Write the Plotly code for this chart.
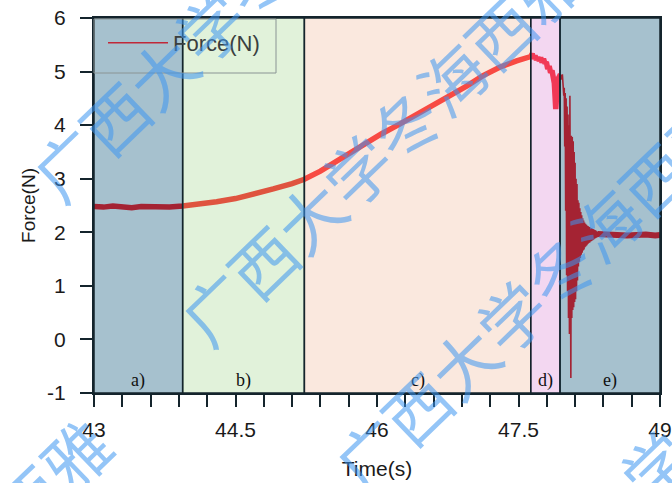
import plotly.graph_objects as go

# ---------------- data ----------------
region_names = ["a)", "b)", "c)", "d)", "e)"]
region_edges = [43.0, 43.94, 45.23, 47.63, 47.94, 49.0]

# slow loading trend (regions a-d)
t_trend = [43.00, 43.10, 43.20, 43.30, 43.40, 43.50, 43.60, 43.70, 43.80, 43.94,
           44.10, 44.30, 44.50, 44.70, 44.90, 45.10, 45.23, 45.40, 45.53, 45.70,
           45.89, 46.05, 46.24, 46.40, 46.59, 46.77, 46.95, 47.12, 47.30, 47.48,
           47.60, 47.630, 47.645, 47.660, 47.675, 47.690, 47.705, 47.720, 47.735,
           47.750, 47.765, 47.780, 47.795, 47.810, 47.825, 47.840, 47.855, 47.870,
           47.880, 47.895, 47.905, 47.915, 47.930, 47.945]
f_trend = [2.48, 2.47, 2.49, 2.47, 2.46, 2.48, 2.47, 2.48, 2.47, 2.49,
           2.52, 2.57, 2.63, 2.71, 2.81, 2.91, 2.99, 3.14, 3.28, 3.47,
           3.67, 3.84, 4.02, 4.18, 4.36, 4.54, 4.73, 4.92, 5.08, 5.20,
           5.27, 5.28, 5.33, 5.24, 5.30, 5.22, 5.27, 5.20, 5.26,
           5.17, 5.24, 5.15, 5.18, 5.05, 5.10, 4.98, 5.02, 4.85,
           4.78, 4.30, 4.60, 4.85, 4.90, 4.95]

# fracture ringing (region e)
t_ring_start = 47.955
t_ring_step = 0.005
f_ring = [4.92, 4.85, 4.95, 4.80, 4.88, 4.55, 4.70, 3.60, 4.60, 2.40,
          4.50, 1.20, 4.35, 0.90, 4.20, 0.40, 4.00, 0.10, 4.55, 0.60,
          -0.72, 3.80, 0.40, 3.78, 0.55, 3.70, 0.60, 3.50, 0.70, 3.30,
          0.75, 3.00, 0.90, 2.90, 1.10, 2.60, 1.36, 2.55, 1.45, 2.45,
          1.52, 2.38, 1.58, 2.32, 1.62, 2.26, 1.66, 2.22, 1.68, 2.18,
          1.72, 2.16, 1.74, 2.14, 1.76, 2.12, 1.78, 2.11, 1.80, 2.10,
          1.81, 2.09, 1.83, 2.08, 1.84, 2.07, 1.85, 2.06, 1.86, 2.05,
          1.88, 2.04, 1.89, 2.03, 1.90, 2.02, 1.91, 2.01]
t_ring = [round(t_ring_start + i * t_ring_step, 4) for i in range(len(f_ring))]

# settled residual force
t_settled = [48.34, 48.40, 48.45, 48.55, 48.65, 48.75, 48.85, 48.95, 49.00]
f_settled = [1.97, 1.96, 1.95, 1.96, 1.94, 1.95, 1.96, 1.94, 1.95]

x_ticks = [43, 44.5, 46, 47.5, 49]
x_tick_text = ["43", "44.5", "46", "47.5", "49"]
y_ticks = [-1, 0, 1, 2, 3, 4, 5, 6]
y_tick_text = ["-1", "0", "1", "2", "3", "4", "5", "6"]

watermark_text = "广西大学冬海西雅"

# ---------------- styles ----------------
W, H = 672, 483
L, R, T, B = 94, 12, 18, 90
region_fill = ["rgba(8,83,119,0.36)", "rgba(172,219,153,0.36)",
               "rgba(242,192,164,0.36)", "rgba(222,144,215,0.36)",
               "rgba(8,83,119,0.36)"]
line_red = "rgb(252,8,14)"
frame_col = "#14242c"
pw, ph = W - L - R, H - T - B

fig = go.Figure()
fig.add_trace(go.Scatter(x=t_trend, y=f_trend, mode="lines",
                         line=dict(color=line_red, width=5.5), showlegend=False,
                         hoverinfo="skip"))
fig.add_trace(go.Scatter(x=t_ring, y=f_ring, mode="lines",
                         line=dict(color=line_red, width=1.6), showlegend=False,
                         hoverinfo="skip"))
fig.add_trace(go.Scatter(x=t_settled, y=f_settled, mode="lines",
                         line=dict(color=line_red, width=6), showlegend=False,
                         hoverinfo="skip"))
# legend entry
fig.add_trace(go.Scatter(x=[None], y=[None], mode="lines", name="Force(N)",
                         line=dict(color="#c02838", width=1.6)))

for i, name in enumerate(region_names):
    x0, x1 = region_edges[i], region_edges[i + 1]
    fig.add_shape(type="rect", xref="x", yref="y", x0=x0, x1=x1, y0=-1, y1=6,
                  fillcolor=region_fill[i], line=dict(color=frame_col, width=1.5),
                  layer="above")
    fig.add_annotation(x=(x0 + x1) / 2, y=-0.77, xref="x", yref="y", text=name,
                       showarrow=False, font=dict(family="Liberation Serif", size=18,
                                                  color="#111"))

# legend frame (page pixels 94..276 x 19..73)
fig.add_shape(type="rect", xref="paper", yref="paper",
              x0=0.0, x1=(276 - L) / pw, y0=(H - B - 73) / ph, y1=(H - B - 19) / ph,
              fillcolor="rgba(0,0,0,0)", line=dict(color="#8a9494", width=1),
              layer="above")

# watermark (page pixel centres)
for cx, cy in [(232, 2), (380, 146), (534, 292), (-92, 614), (678, 442)]:
    fig.add_annotation(xref="paper", yref="paper", x=(cx - L) / pw, y=(H - B - cy) / ph,
                       text=watermark_text, showarrow=False, textangle=-44,
                       xanchor="center", yanchor="middle",
                       font=dict(family="Noto Sans CJK SC", size=66,
                                 color="rgba(60,150,240,0.55)"))

fig.update_layout(
    width=W, height=H, margin=dict(l=L, r=R, t=T, b=B, autoexpand=False),
    paper_bgcolor="white", plot_bgcolor="white",
    font=dict(family="Liberation Sans, Arial", color="#1a1a1a"),
    legend=dict(x=9 / pw, y=1 - 4 / ph, xanchor="left", yanchor="top",
                bgcolor="rgba(0,0,0,0)", borderwidth=0,
                font=dict(size=22, color="#3a3f3f"), itemwidth=60),
)
fig.update_xaxes(range=[43, 49], tickmode="array", tickvals=x_ticks, ticktext=x_tick_text,
                 automargin=False,
                 ticks="outside", ticklen=12, tickwidth=2, tickcolor=frame_col,
                 showline=True, linecolor=frame_col, linewidth=2, mirror=True,
                 showgrid=False, zeroline=False, tickfont=dict(size=21),
                 ticklabelstandoff=5,
                 minor=dict(tickmode="linear", tick0=43, dtick=0.3, ticks="outside",
                            ticklen=12, tickwidth=2, tickcolor=frame_col, showgrid=False),
                 title=dict(text="Time(s)", font=dict(size=21), standoff=21))
fig.update_yaxes(range=[-1, 6], tickmode="array", tickvals=y_ticks, ticktext=y_tick_text,
                 ticks="outside", ticklen=12, tickwidth=2,
                 automargin=False,
                 tickcolor=frame_col, showline=True, linecolor=frame_col, linewidth=2,
                 mirror=True, showgrid=False, zeroline=False, tickfont=dict(size=21),
                 ticklabelstandoff=10,
                 title=dict(text="Force(N)", font=dict(size=19), standoff=6))

fig.write_html("out.html")
